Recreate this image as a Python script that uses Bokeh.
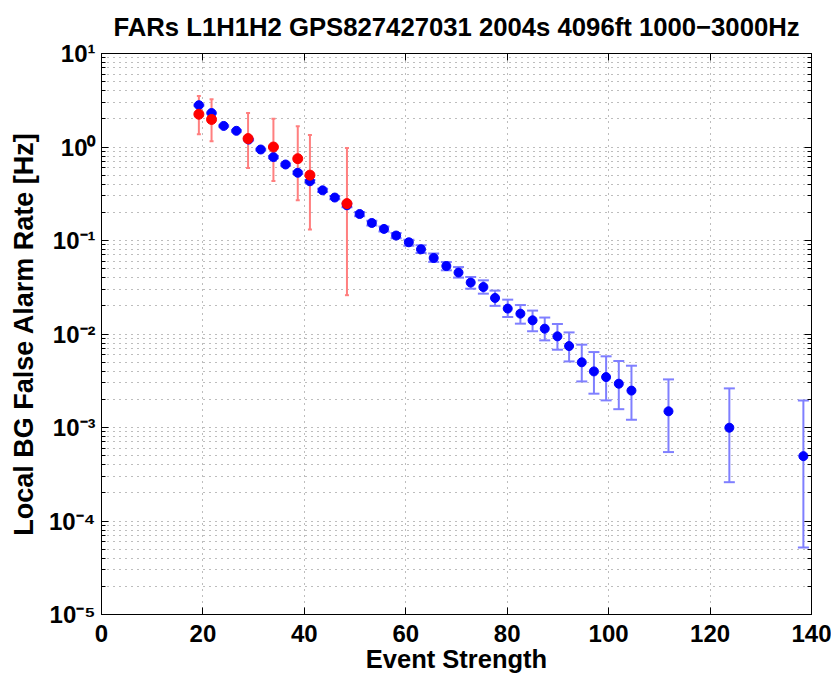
from bokeh.plotting import figure
from bokeh.models import (LogAxis, LinearAxis, FixedTicker, CustomJSTickFormatter,
                          Whisker, TeeHead, ColumnDataSource)
from bokeh.embed import file_html
from bokeh.resources import INLINE

# ---- data ----
blue_x = [19.2, 21.7, 24.1, 26.6, 29.0, 31.4, 33.9, 36.3, 38.7, 41.1, 43.6, 46.0,
          48.4, 50.9, 53.3, 55.7, 58.1, 60.6, 63.0, 65.5, 68.0, 70.4, 72.8, 75.3,
          77.6, 80.1, 82.6, 85.0, 87.4, 89.9, 92.2, 94.7, 97.1, 99.5, 102.0, 104.5,
          111.8, 123.8, 138.4]
blue_y = [2.8, 2.31, 1.68, 1.49, 1.2, 0.94, 0.78, 0.65, 0.53, 0.43, 0.344, 0.288,
          0.238, 0.192, 0.154, 0.133, 0.113, 0.0957, 0.0805, 0.065, 0.0533, 0.0454,
          0.0355, 0.0318, 0.0243, 0.0187, 0.0165, 0.014, 0.0114, 0.00944, 0.00743,
          0.00498, 0.00398, 0.00346, 0.00294, 0.00248, 0.00149, 0.000995, 0.000494]
blue_lo = [2.76, 2.28, 1.65, 1.46, 1.176, 0.92, 0.76, 0.632, 0.514, 0.415, 0.331,
           0.276, 0.227, 0.182, 0.145, 0.125, 0.1055, 0.088, 0.0735, 0.059, 0.048,
           0.0401, 0.0305, 0.027, 0.020, 0.0152, 0.0129, 0.0107, 0.00855, 0.00679,
           0.00509, 0.00311, 0.0023, 0.00195, 0.00157, 0.00121, 0.000546, 0.00026,
           0.000052]
blue_hi = [2.84, 2.34, 1.71, 1.52, 1.224, 0.96, 0.80, 0.668, 0.546, 0.445, 0.357,
           0.30, 0.249, 0.202, 0.163, 0.141, 0.1205, 0.102, 0.0889, 0.0724, 0.0589,
           0.052, 0.0407, 0.0375, 0.0291, 0.0233, 0.0204, 0.0178, 0.015, 0.0128,
           0.0104, 0.00769, 0.00641, 0.00577, 0.00514, 0.00458, 0.00327, 0.00262,
           0.00195]

red_x = [19.2, 21.7, 28.9, 33.9, 38.7, 41.1, 48.4]
red_y = [2.24, 1.97, 1.23, 1.0, 0.75, 0.50, 0.248]
red_lo = [1.37, 1.15, 0.597, 0.434, 0.269, 0.131, 0.026]
red_hi = [3.52, 3.24, 2.31, 2.01, 1.67, 1.34, 0.977]

x_ticks = [0, 20, 40, 60, 80, 100, 120, 140]
y_exponents = [-5, -4, -3, -2, -1, 0, 1]

title_text = "FARs L1H1H2 GPS827427031 2004s 4096ft 1000\u22123000Hz"
x_label = "Event Strength"
y_label = "Local BG False Alarm Rate [Hz]"

FONT = "Liberation Sans"

p = figure(x_range=(0, 140), y_range=(1e-5, 10), y_axis_type="log",
           frame_width=710, frame_height=561,
           min_border_left=101, min_border_top=53, min_border_right=20,
           min_border_bottom=10,
           output_backend="svg", toolbar_location=None, title=title_text)

p.background_fill_color = "white"
p.border_fill_color = "white"
p.outline_line_color = "black"
p.outline_line_width = 1

p.title.align = "center"
p.title.vertical_align = "top"
p.title.text_font = FONT
p.title.text_font_size = "25.7px"
p.title.text_font_style = "bold"
p.title.text_color = "black"
p.title.standoff = 22

yticker = FixedTicker(ticks=[10.0 ** e for e in y_exponents],
                      minor_ticks=[m * 10.0 ** e for e in y_exponents[:-1] for m in range(2, 10)])
xticker = FixedTicker(ticks=x_ticks)

sup_code = """
const e = Math.round(Math.log10(tick));
const sup = {'-':'\u207b','0':'\u2070','1':'\u00b9','2':'\u00b2','3':'\u00b3','4':'\u2074','5':'\u2075','6':'\u2076','7':'\u2077','8':'\u2078','9':'\u2079'};
return '10' + String(e).split('').map(c => sup[c]).join('');
"""

p.yaxis.ticker = yticker
p.yaxis.formatter = CustomJSTickFormatter(code=sup_code)
p.xaxis.ticker = xticker
p.ygrid.ticker = yticker
p.xgrid.ticker = xticker

for ax in (p.xaxis[0], p.yaxis[0]):
    ax.axis_line_color = "black"
    ax.major_tick_line_color = "black"
    ax.minor_tick_line_color = "black"
    ax.major_tick_in = 7
    ax.major_tick_out = 0
    ax.minor_tick_in = 4
    ax.minor_tick_out = 0
    ax.major_label_text_font = FONT
    ax.major_label_text_font_size = "24px"
    ax.major_label_text_font_style = "bold"
    ax.major_label_text_color = "black"
    ax.axis_label_text_font = FONT
    ax.axis_label_text_font_style = "bold"
    ax.axis_label_text_color = "black"

p.xaxis.axis_label_text_font_size = "25.5px"
p.yaxis.axis_label_text_font_size = "27px"
p.xaxis.minor_tick_line_color = None
p.xaxis.major_label_standoff = 10
p.xaxis.axis_label_standoff = 0
p.yaxis.major_label_standoff = 6
p.yaxis.axis_label_standoff = 7
p.xaxis.axis_label = x_label
p.yaxis.axis_label = y_label

empty = CustomJSTickFormatter(code="return '';")
ax_r = LogAxis(ticker=yticker, formatter=empty, major_tick_in=7, major_tick_out=0,
               minor_tick_in=4, minor_tick_out=0, axis_line_color="black",
               major_label_standoff=0, major_label_text_font_size="0px")
ax_t = LinearAxis(ticker=xticker, formatter=empty, major_tick_in=7, major_tick_out=0,
                  minor_tick_line_color=None, axis_line_color="black",
                  major_label_standoff=0, major_label_text_font_size="0px")
p.add_layout(ax_r, "right")
p.add_layout(ax_t, "above")

for g in (p.xgrid[0], p.ygrid[0]):
    g.grid_line_color = "#7a7a7a"
    g.grid_line_dash = "1 5"
    g.grid_line_width = 1
p.ygrid.minor_grid_line_color = "#7a7a7a"
p.ygrid.minor_grid_line_dash = "1 5"
p.ygrid.minor_grid_line_width = 1

bsrc = ColumnDataSource(dict(x=blue_x, y=blue_y, lo=blue_lo, hi=blue_hi))
rsrc = ColumnDataSource(dict(x=red_x, y=red_y, lo=red_lo, hi=red_hi))

bw = Whisker(source=bsrc, base="x", lower="lo", upper="hi", dimension="height",
             line_color="#7f7fff", line_width=2,
             upper_head=TeeHead(size=11, line_color="#7f7fff", line_width=2),
             lower_head=TeeHead(size=11, line_color="#7f7fff", line_width=2))
p.add_layout(bw)
p.scatter("x", "y", source=bsrc, size=9, color="#0000ff", marker="circle")

rw = Whisker(source=rsrc, base="x", lower="lo", upper="hi", dimension="height",
             line_color="#ff7f7f", line_width=2,
             upper_head=TeeHead(size=4, line_color="#ff7f7f", line_width=2),
             lower_head=TeeHead(size=4, line_color="#ff7f7f", line_width=2))
p.add_layout(rw)
p.scatter("x", "y", source=rsrc, size=10, color="#ff0000", marker="circle")

with open("out.html", "w", encoding="utf-8") as f:
    f.write(file_html(p, INLINE))
